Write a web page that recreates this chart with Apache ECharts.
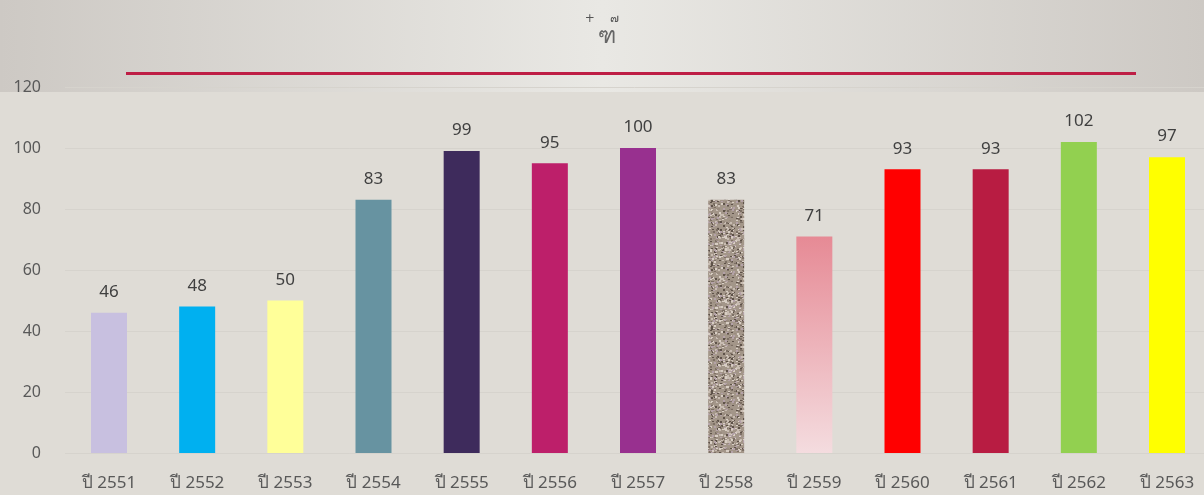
<!DOCTYPE html>
<html>
<head>
<meta charset="utf-8">
<script src="https://cdn.jsdelivr.net/npm/echarts@6/dist/echarts.min.js"></script>
<style>
  html, body { margin: 0; padding: 0; }
  #chart { width: 1204px; height: 495px; }
</style>
</head>
<body>
<div id="chart"></div>
<script>
  // ข้อมูล
  const years = ['ปี 2551', 'ปี 2552', 'ปี 2553', 'ปี 2554', 'ปี 2555', 'ปี 2556', 'ปี 2557',
    'ปี 2558', 'ปี 2559', 'ปี 2560', 'ปี 2561', 'ปี 2562', 'ปี 2563'];
  const counts = [46, 48, 50, 83, 99, 95, 100, 83, 71, 93, 93, 102, 97];
  const barColors = ['#c8c0e0', '#00b0f0', '#ffff99', '#6793a1', '#3e2b5c', '#bd1f6a', '#98308f',
    'texture', 'gradient', '#ff0000', '#b81c42', '#92d050', '#ffff00'];

  // granite-like texture for one bar
  function makeTexture() {
    const c = document.createElement('canvas');
    c.width = 64; c.height = 64;
    const ctx = c.getContext('2d');
    ctx.fillStyle = '#a39689';
    ctx.fillRect(0, 0, 64, 64);
    let s = 7;
    const rnd = () => { s = (s * 16807) % 2147483647; return s / 2147483647; };
    const tones = ['#7d7065', '#c8bcb2', '#b4a2a8', '#5e5249', '#d8cec4', '#9a8c80'];
    for (let i = 0; i < 900; i++) {
      ctx.fillStyle = tones[Math.floor(rnd() * tones.length)];
      ctx.fillRect(Math.floor(rnd() * 64), Math.floor(rnd() * 64), 2, 1 + Math.floor(rnd() * 2));
    }
    return c;
  }
  const texture = makeTexture();

  function colorFor(i) {
    const c = barColors[i];
    if (c === 'texture') return { image: texture, repeat: 'repeat' };
    if (c === 'gradient') return new echarts.graphic.LinearGradient(0, 0, 0, 1, [
      { offset: 0, color: '#e68a95' }, { offset: 1, color: '#f4dcdf' }
    ]);
    return c;
  }

  const chartDom = document.getElementById('chart');
  const myChart = echarts.init(chartDom);

  const option = {
    backgroundColor: '#dfdcd6',
    animation: false,
    graphic: [
      {
        type: 'rect',
        z: -10,
        shape: { x: 0, y: 0, width: 1204, height: 92 },
        style: {
          fill: new echarts.graphic.LinearGradient(0, 0, 1, 0, [
            { offset: 0, color: '#cdc9c4' },
            { offset: 0.5, color: '#e9e8e4' },
            { offset: 1, color: '#cdc9c4' }
          ])
        }
      },
      {
        type: 'rect',
        shape: { x: 126, y: 72, width: 1010, height: 3 },
        style: { fill: '#be1e45' }
      },
      {
        type: 'text',
        x: 602, y: 13,
        style: { text: '+    ๗', fontSize: 12, fill: '#555', align: 'center', fontFamily: 'DejaVu Sans' }
      },
      {
        type: 'text',
        x: 607, y: 26,
        style: { text: 'ฑ', fontSize: 22, fill: '#666', align: 'center', fontFamily: 'DejaVu Sans' }
      }
    ],
    grid: [
      // background grid for split lines across full width
      { left: 65, top: 87, right: 0, height: 366 },
      // bar grid: first and last category at the edges
      { left: 109, top: 87, right: 37, height: 366 }
    ],
    xAxis: [
      {
        type: 'category', gridIndex: 0, data: years, show: false
      },
      {
        type: 'category', gridIndex: 1,
        data: years,
        boundaryGap: false,
        axisTick: { show: false },
        axisLine: { show: false },
        axisLabel: { color: '#595959', fontSize: 17, margin: 22, fontFamily: 'Noto Sans' }
      }
    ],
    yAxis: [
      {
        type: 'value', gridIndex: 0,
        min: 0, max: 120, interval: 20,
        axisLabel: { color: '#595959', fontSize: 16, margin: 24, fontFamily: 'Noto Sans' },
        splitLine: { lineStyle: { color: '#d6d3cd' } }
      },
      {
        type: 'value', gridIndex: 1,
        min: 0, max: 120, interval: 20,
        axisLabel: { show: false },
        splitLine: { show: false }
      }
    ],
    series: [{
      type: 'bar',
      xAxisIndex: 1,
      yAxisIndex: 1,
      barWidth: 36,
      data: counts.map((v, i) => ({ value: v, itemStyle: { color: colorFor(i) } })),
      label: {
        show: true, position: 'top', distance: 12,
        color: '#404040', fontSize: 17, fontFamily: 'Noto Sans'
      }
    }]
  };

  myChart.setOption(option);
</script>
</body>
</html>
